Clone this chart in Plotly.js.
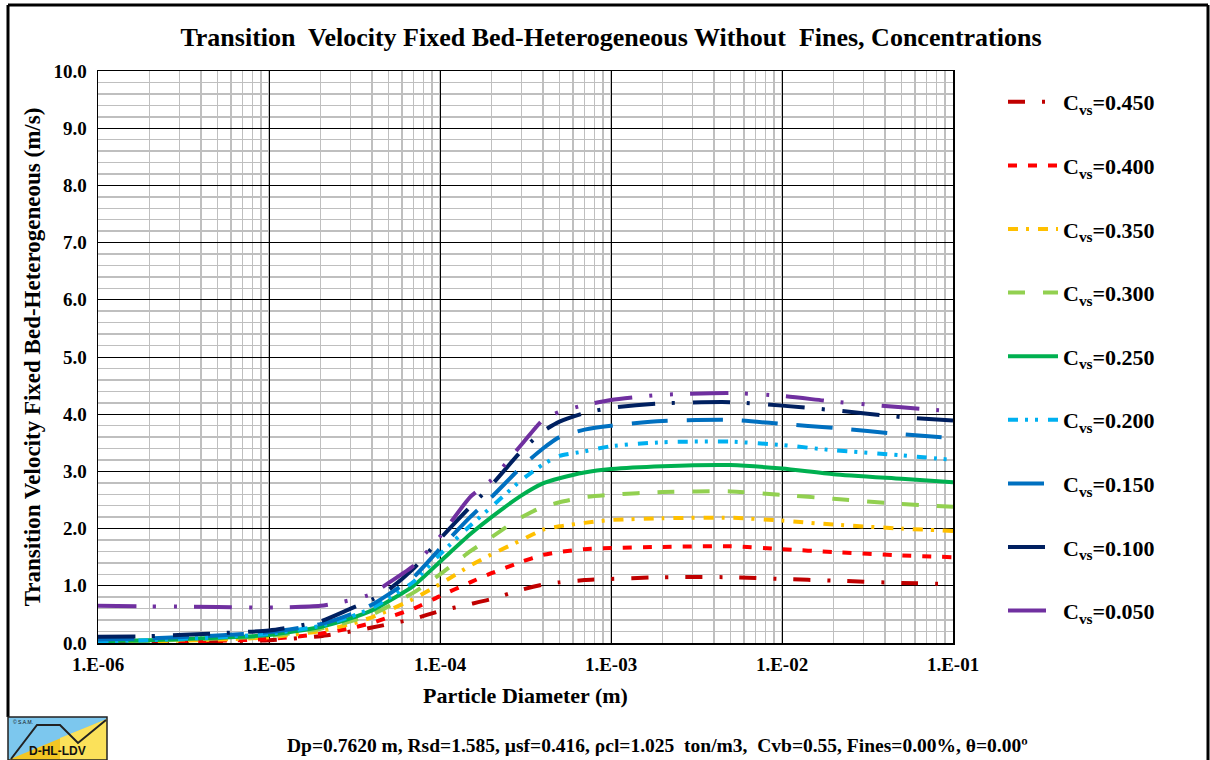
<!DOCTYPE html>
<html><head><meta charset="utf-8">
<script src="https://cdn.plot.ly/plotly-3.0.1.min.js"></script>
<style>body{margin:0;background:#fff}#chart{width:1210px;height:760px}</style>
</head><body><div id="chart"></div>
<script>
// Particle diameters (m)
const diameters = [1e-6, 2e-6, 5e-6, 1e-5, 2e-5, 3e-5, 4e-5, 5e-5, 7e-5, 1e-4, 1.5e-4, 2e-4, 3e-4, 4e-4, 5e-4, 7e-4, 1e-3, 2e-3, 5e-3, 1e-2, 2e-2, 5e-2, 1e-1];
// Transition velocity (m/s) per volumetric concentration
const v450 = [0.00, 0.01, 0.03, 0.05, 0.12, 0.20, 0.27, 0.33, 0.42, 0.56, 0.68, 0.77, 0.93, 1.02, 1.06, 1.10, 1.12, 1.15, 1.15, 1.12, 1.09, 1.05, 1.03];
const v400 = [0.01, 0.02, 0.04, 0.07, 0.16, 0.26, 0.35, 0.45, 0.60, 0.82, 1.06, 1.22, 1.42, 1.54, 1.59, 1.64, 1.66, 1.68, 1.69, 1.64, 1.59, 1.53, 1.50];
const v350 = [0.02, 0.03, 0.06, 0.10, 0.21, 0.33, 0.45, 0.57, 0.77, 1.03, 1.35, 1.55, 1.80, 1.98, 2.04, 2.10, 2.15, 2.18, 2.19, 2.14, 2.07, 2.00, 1.96];
const v300 = [0.02, 0.04, 0.08, 0.12, 0.25, 0.38, 0.50, 0.64, 0.88, 1.20, 1.60, 1.85, 2.20, 2.38, 2.46, 2.55, 2.59, 2.64, 2.65, 2.59, 2.52, 2.43, 2.38];
const v250 = [0.03, 0.05, 0.09, 0.14, 0.28, 0.43, 0.57, 0.73, 1.00, 1.42, 1.90, 2.20, 2.58, 2.79, 2.88, 2.98, 3.04, 3.09, 3.11, 3.05, 2.95, 2.87, 2.81];
const v200 = [0.03, 0.05, 0.10, 0.16, 0.30, 0.46, 0.61, 0.78, 1.07, 1.55, 2.05, 2.38, 2.85, 3.12, 3.27, 3.35, 3.44, 3.51, 3.52, 3.46, 3.37, 3.28, 3.20];
const v150 = [0.06, 0.08, 0.13, 0.19, 0.33, 0.50, 0.67, 0.85, 1.15, 1.65, 2.20, 2.55, 3.08, 3.40, 3.60, 3.73, 3.80, 3.88, 3.90, 3.83, 3.76, 3.65, 3.58];
const v100 = [0.11, 0.12, 0.17, 0.22, 0.38, 0.60, 0.76, 0.93, 1.30, 1.82, 2.38, 2.76, 3.36, 3.70, 3.87, 4.02, 4.11, 4.19, 4.21, 4.15, 4.07, 3.95, 3.89];
const v050 = [0.65, 0.64, 0.63, 0.62, 0.65, 0.75, 0.86, 1.05, 1.35, 1.86, 2.55, 2.85, 3.47, 3.90, 4.04, 4.16, 4.25, 4.34, 4.37, 4.32, 4.22, 4.12, 4.05];

const seriesNames = ['0.450','0.400','0.350','0.300','0.250','0.200','0.150','0.100','0.050'];
const seriesValues = [v450, v400, v350, v300, v250, v200, v150, v100, v050];
const seriesColors = ['#C00000','#FF0000','#FFC000','#92D050','#00B050','#00B0F0','#0070C0','#002060','#7030A0'];
const seriesDash = ['17px,17px,3px,17px','9px,11px','10px,8px,3px,9px','17px,18px','solid','10px,7px,3px,7px,3px,10px','36px,19px','37px,17px,3px,18px','38px,17px,3px,18px,3px,17px'];

const xTickVals = [1e-6, 1e-5, 1e-4, 1e-3, 1e-2, 1e-1];
const xTickText = ['1.E-06','1.E-05','1.E-04','1.E-03','1.E-02','1.E-01'];

const FONT = 'Liberation Serif, Times New Roman, serif';

const traces = seriesNames.map((n, i) => ({
  x: diameters, y: seriesValues[i], type: 'scatter', mode: 'lines',
  name: '<b>C<sub>vs</sub>=' + n + '</b>',
  legendgroup: 'g' + i,
  line: {color: seriesColors[i], width: 4, dash: seriesDash[i], shape: 'spline', smoothing: 0.6}
}));

// pixel -> paper helpers (plot area 98..953 x 71..643)
const PX = p => (p - 98) / 855;
const PY = p => (643 - p) / 572;

const shapes = [
  // outer frame
  {type:'line', xref:'paper', yref:'paper', x0:PX(8), x1:PX(1208), y0:PY(5), y1:PY(5), line:{color:'black', width:3}},
  {type:'line', xref:'paper', yref:'paper', x0:PX(8), x1:PX(8), y0:PY(5), y1:PY(717), line:{color:'black', width:3}},
  {type:'line', xref:'paper', yref:'paper', x0:PX(1208), x1:PX(1208), y0:PY(5), y1:PY(762), line:{color:'black', width:3}},
  // logo
  {type:'rect', xref:'paper', yref:'paper', x0:PX(8), x1:PX(107), y0:PY(760), y1:PY(717), fillcolor:'#7CC7EE', line:{width:0}},
  {type:'path', xref:'paper', yref:'paper', path:`M${PX(8)},${PY(760)} L${PX(107)},${PY(719)} L${PX(107)},${PY(760)} Z`, fillcolor:'#F3C623', line:{width:0}},
  {type:'path', xref:'paper', yref:'paper', path:`M${PX(60)},${PY(738)} L${PX(107)},${PY(719)} L${PX(107)},${PY(760)} L${PX(60)},${PY(760)} Z`, fillcolor:'#FBE15A', line:{width:0}},
  {type:'path', xref:'paper', yref:'paper', path:`M${PX(11)},${PY(759)} L${PX(37)},${PY(725)} L${PX(60)},${PY(725)} L${PX(78)},${PY(743)} L${PX(106)},${PY(720)}`, line:{color:'#222', width:2}},
  {type:'rect', xref:'paper', yref:'paper', x0:PX(8), x1:PX(107), y0:PY(760), y1:PY(717), line:{color:'#222', width:1.5}}
];

const annotations = [
  {xref:'paper', yref:'paper', x:PX(657), y:PY(745), text:'<b>Dp=0.7620 m, Rsd=1.585, µsf=0.416, ρcl=1.025  ton/m3,  Cvb=0.55, Fines=0.00%, θ=0.00º</b>', showarrow:false, font:{family:FONT, size:19.5, color:'black'}, xanchor:'center', yanchor:'middle'},
  {xref:'paper', yref:'paper', x:PX(57), y:PY(751), text:'<b>D-HL-LDV</b>', showarrow:false, font:{family:'Liberation Sans, Arial, sans-serif', size:12, color:'#111'}, xanchor:'center', yanchor:'middle'},
  {xref:'paper', yref:'paper', x:PX(11), y:PY(722), text:'© S.A.M.', showarrow:false, font:{family:'Liberation Sans, Arial, sans-serif', size:5, color:'#111'}, xanchor:'left', yanchor:'middle'}
];

const layout = {
  width: 1210, height: 760,
  margin: {l: 98, r: 257, t: 71, b: 117},
  paper_bgcolor: 'white', plot_bgcolor: 'white',
  showlegend: true,
  title: {text: '<b>Transition  Velocity Fixed Bed-Heterogeneous Without  Fines, Concentrations</b>', font: {family: FONT, size: 26, color: 'black'}, xref: 'paper', x: PX(611), xanchor: 'center', yref: 'container', y: 1 - 37/760, yanchor: 'middle'},
  xaxis: {
    type: 'log', range: [-6, -1], tickmode: 'array', tickvals: xTickVals, ticktext: xTickText,
    showgrid: true, gridcolor: '#000', gridwidth: 1,
    minor: {dtick: 'D1', showgrid: true, gridcolor: '#BFBFBF', gridwidth: 1.5, ticks: ''},
    showline: true, linecolor: '#000', linewidth: 1.5, mirror: true, ticks: '', zeroline: false,
    ticklabelstandoff: 4,
    tickfont: {family: FONT, size: 19, color: 'black', weight: 'bold'},
    title: {text: '<b>Particle Diameter (m)</b>', font: {family: FONT, size: 22, color: 'black'}, standoff: 13}
  },
  yaxis: {
    range: [0, 10], dtick: 1, tickformat: '.1f',
    showgrid: true, gridcolor: '#000', gridwidth: 1,
    minor: {dtick: 0.2, showgrid: true, gridcolor: '#BFBFBF', gridwidth: 1.5, ticks: ''},
    showline: true, linecolor: '#000', linewidth: 1.5, mirror: true, ticks: '', zeroline: false,
    ticklabelstandoff: 6,
    tickfont: {family: FONT, size: 19, color: 'black', weight: 'bold'},
    title: {text: '<b>Transition Velocity Fixed Bed-Heterogeneous (m/s)</b>', font: {family: FONT, size: 23, color: 'black'}, standoff: 6}
  },
  legend: {
    x: PX(1003), y: PY(81), xanchor: 'left', yanchor: 'top',
    font: {family: FONT, size: 22, color: 'black'},
    itemwidth: 50, tracegroupgap: 32, traceorder: 'grouped',
    bgcolor: 'rgba(0,0,0,0)'
  },
  shapes: shapes,
  annotations: annotations
};

Plotly.newPlot('chart', traces, layout, {displayModeBar: false, staticPlot: true});
</script>
</body></html>
